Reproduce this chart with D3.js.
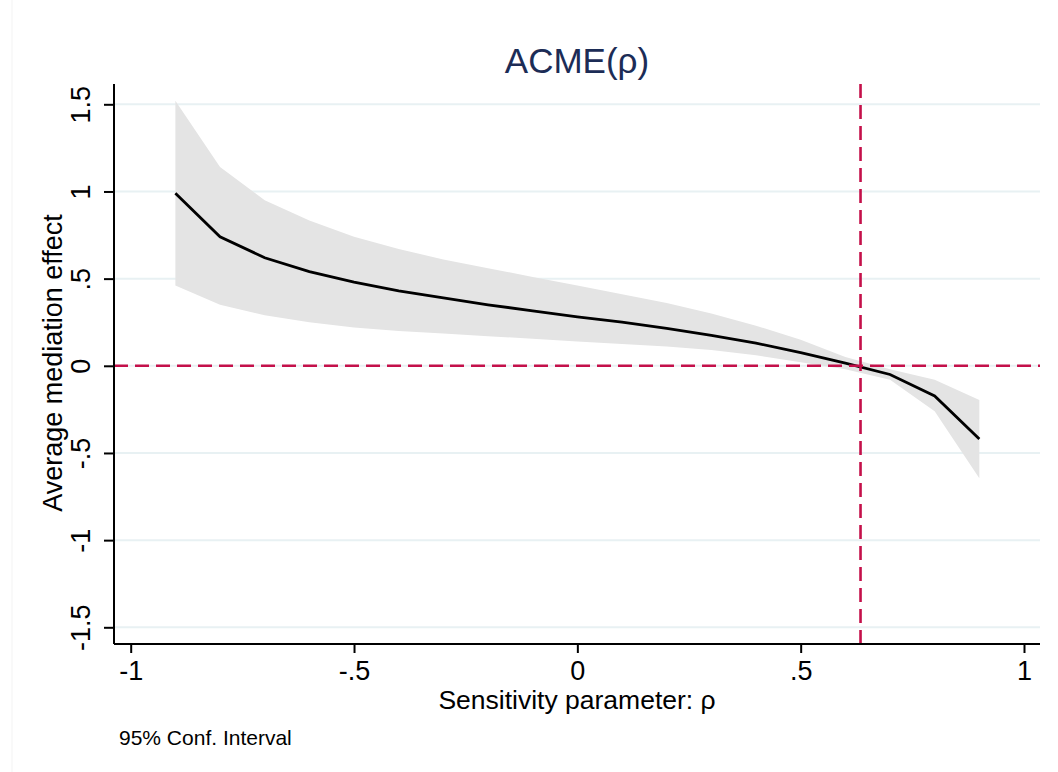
<!DOCTYPE html>
<html lang="en">
<head>
  <meta charset="UTF-8" />
  <script src="https://d3js.org/d3.v7.min.js"></script>
  <style>
    body { margin: 0; background: #fff; overflow: hidden; }
    svg { display: block; font-family: "Liberation Sans", Arial, sans-serif; }
  </style>
</head>
<body>
  <svg width="1058" height="772"></svg>
  <script>
    // sensitivity parameter rho and the ACME with its 95% interval
    const rho = [-0.9, -0.8, -0.7, -0.6, -0.5, -0.4, -0.3, -0.2, -0.1, 0, 0.1, 0.2, 0.3, 0.4, 0.5, 0.6, 0.7, 0.8, 0.9];
    const acme = [0.99, 0.74, 0.62, 0.54, 0.48, 0.43, 0.39, 0.35, 0.315, 0.28, 0.25, 0.215, 0.175, 0.13, 0.075, 0.015, -0.05, -0.173, -0.42];
    const upper = [1.52, 1.14, 0.95, 0.833, 0.74, 0.67, 0.61, 0.56, 0.51, 0.46, 0.41, 0.36, 0.3, 0.23, 0.15, 0.05, -0.02, -0.08, -0.196];
    const lower = [0.46, 0.35, 0.29, 0.25, 0.22, 0.2, 0.185, 0.17, 0.155, 0.14, 0.125, 0.11, 0.09, 0.06, 0.02, -0.02, -0.08, -0.26, -0.645];
    const xTicks = [-1, -0.5, 0, 0.5, 1];
    const yTicks = [-1.5, -1, -0.5, 0, 0.5, 1, 1.5];
    const rhoZero = 0.634; // where ACME crosses zero

    const fmt = v => v === 0 ? "0" : String(v).replace("0.", ".");

    const svg = d3.select("svg");
    const plotL = 114, plotR = 1040, plotT = 84, plotB = 644;
    const red = "#c4104a";

    const x = d3.scaleLinear().domain([-1, 1]).range([130.7, 1024]);
    const y = d3.scaleLinear().domain([-1.5, 1.5]).range([627.3, 104.3]);

    // faint outer region edge
    svg.append("rect")
      .attr("x", 12).attr("y", -2).attr("width", 1060).attr("height", 780)
      .attr("fill", "none").attr("stroke", "#f3f3f3");

    // gridlines
    svg.append("g").selectAll("line")
      .data(yTicks)
      .join("line")
      .attr("x1", plotL).attr("x2", plotR)
      .attr("y1", d => y(d)).attr("y2", d => y(d))
      .attr("stroke", "#e8f1f3").attr("stroke-width", 2);

    const data = rho.map((r, i) => ({ r, m: acme[i], hi: upper[i], lo: lower[i] }));

    svg.append("path")
      .datum(data)
      .attr("fill", "#e4e4e4")
      .attr("d", d3.area().x(d => x(d.r)).y0(d => y(d.lo)).y1(d => y(d.hi)));

    svg.append("path")
      .datum(data)
      .attr("fill", "none")
      .attr("stroke", "#000")
      .attr("stroke-width", 2.8)
      .attr("d", d3.line().x(d => x(d.r)).y(d => y(d.m)));

    // reference lines
    svg.append("line")
      .attr("x1", plotL).attr("x2", plotR)
      .attr("y1", y(0)).attr("y2", y(0))
      .attr("stroke", red).attr("stroke-width", 2.6)
      .attr("stroke-dasharray", "14,7");

    svg.append("line")
      .attr("x1", x(rhoZero)).attr("x2", x(rhoZero))
      .attr("y1", plotT).attr("y2", plotB)
      .attr("stroke", red).attr("stroke-width", 2.6)
      .attr("stroke-dasharray", "14,7");

    // axes
    const xAxis = svg.append("g")
      .attr("transform", `translate(0,${plotB})`)
      .call(d3.axisBottom(x).tickValues(xTicks).tickFormat(fmt).tickSize(9).tickSizeOuter(0));
    xAxis.select(".domain").attr("d", `M${plotL},0H${plotR}`).attr("stroke", "#000").attr("stroke-width", 2);
    xAxis.selectAll(".tick line").attr("stroke", "#000").attr("stroke-width", 2);
    xAxis.selectAll(".tick text")
      .attr("font-size", 27).attr("fill", "#000")
      .attr("font-family", "Liberation Sans, Arial, sans-serif")
      .attr("y", 36).attr("dy", null);

    const yAxis = svg.append("g")
      .attr("transform", `translate(${plotL},0)`)
      .call(d3.axisLeft(y).tickValues(yTicks).tickFormat(fmt).tickSize(10).tickSizeOuter(0));
    yAxis.select(".domain").attr("d", `M0,${plotT}V${plotB}`).attr("stroke", "#000").attr("stroke-width", 2);
    yAxis.selectAll(".tick line").attr("stroke", "#000").attr("stroke-width", 2);
    yAxis.selectAll(".tick text")
      .attr("font-size", 27).attr("fill", "#000")
      .attr("font-family", "Liberation Sans, Arial, sans-serif")
      .attr("x", null).attr("dy", null)
      .attr("text-anchor", "middle")
      .attr("transform", "translate(-24,0) rotate(-90)");

    // titles
    svg.append("text")
      .attr("x", 577).attr("y", 73)
      .attr("text-anchor", "middle")
      .attr("font-size", 35).attr("fill", "#1c2c56")
      .text("ACME(ρ)");

    svg.append("text")
      .attr("transform", "translate(62,363) rotate(-90)")
      .attr("text-anchor", "middle")
      .attr("font-size", 27).attr("fill", "#000")
      .text("Average mediation effect");

    svg.append("text")
      .attr("x", 577).attr("y", 709)
      .attr("text-anchor", "middle")
      .attr("font-size", 26.5).attr("fill", "#000")
      .text("Sensitivity parameter: ρ");

    svg.append("text")
      .attr("x", 119).attr("y", 745)
      .attr("font-size", 21).attr("fill", "#000")
      .text("95% Conf. Interval");
  </script>
</body>
</html>
